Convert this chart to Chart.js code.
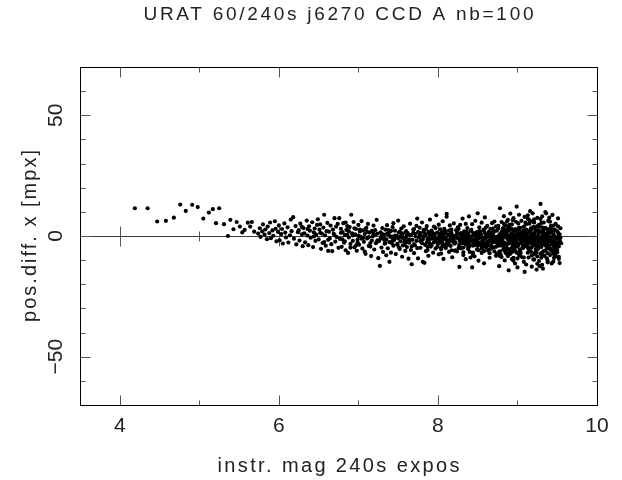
<!DOCTYPE html>
<html><head><meta charset="utf-8">
<script src="https://cdn.jsdelivr.net/npm/chart.js@4"></script>
<style>html,body{margin:0;padding:0;background:#fff}canvas{display:block}</style>
</head><body>
<canvas id="c" width="622" height="480"></canvas>
<script>
const titleText = "URAT 60/240s j6270 CCD A nb=100";
const xTitle = "instr. mag 240s expos";
const yTitle = "pos.diff. x [mpx]";
const xRange = [3.5, 10];
const yRange = [-70, 70];
const xTicksMajor = [4, 6, 8, 10];
const xTicksMinor = [5, 7, 9];
const yTicksMajor = [-50, 0, 50];
const yTicksMinor = [-60, -40, -30, -20, -10, 10, 20, 30, 40, 60];
const yTickLabels = ["\u221250", "0", "50"];

// bright stars (sparse)
const magA = [4.19,4.35,4.47,4.58,4.68,4.76,4.83,4.91,4.98,5.05,5.12,5.17,5.21,5.25,5.31,5.36,5.39,5.43,5.47,5.51,5.54,5.57,5.61,5.64,5.66,5.69,5.74];
const dxA  = [11.5,11.5,6.0,6.3,7.6,13.0,10.4,12.9,12.0,7.2,9.7,11.1,5.3,11.5,4.9,0.0,6.7,2.8,5.8,3.9,1.5,2.5,5.5,3.9,5.8,1.8,1.0];
const magB = [5.76,5.77,5.79,5.80,5.82,5.83,5.85,5.86,5.88,5.89,5.90,5.92,5.93,5.95,5.96,5.97,5.99,6.00,6.01,6.03,6.04,6.05,6.07,6.08,6.09,6.11,6.12,6.14,6.15,6.16,6.18,6.19,6.21,6.22,6.24];
const dxB  = [3.2,-0.4,1.9,4.8,0.6,2.7,-1.3,3.9,1.2,5.6,-0.9,2.3,0.1,6.1,3.0,-2.2,1.7,4.4,-1.8,0.8,2.9,-3.1,5.2,1.4,-0.6,3.6,-2.7,0.3,6.8,2.0,7.8,-1.1,4.1,-3.5,1.6];
const magC = [6.25,6.26,6.27,6.29,6.30,6.31,6.32,6.33,6.35,6.36,6.37,6.38,6.39,6.40,6.42,6.43,6.44,6.45,6.46,6.47,6.49,6.50,6.51,6.52,6.53,6.54,6.55,6.56,6.57,6.58,6.59,6.60,6.61,6.62,6.63,6.64,6.65,6.66,6.67,6.68,6.69,6.70,6.71,6.72,6.73,6.74,6.75,6.52,6.44,6.36,6.62,6.70,6.29,6.57,6.48];
const dxC  = [2.4,-1.9,5.1,0.7,-4.2,3.3,1.1,-2.6,6.4,0.2,-3.8,4.0,2.2,-0.7,5.7,-4.6,1.5,3.1,-2.0,0.6,6.9,-1.4,2.7,4.8,-5.3,1.0,-2.9,3.5,8.8,0.3,-4.0,2.0,5.4,-6.2,1.8,-1.0,4.3,-3.4,-6.3,2.6,0.9,7.4,-2.3,3.9,-0.5,5.0,-4.9,1.3,-0.2,2.9,-1.6,0.4,3.8,-2.5,4.6];
const magD = [6.76,6.77,6.78,6.79,6.80,6.81,6.82,6.83,6.84,6.85,6.86,6.87,6.88,6.89,6.90,6.91,6.92,6.93,6.94,6.95,6.96,6.97,6.98,6.99,7.00,7.01,7.02,7.03,7.04,7.05,7.06,7.07,7.08,7.09,7.10,7.11,7.12,7.13,7.14,7.15,7.16,7.17,7.18,7.19,7.20,7.21,7.22,7.23,7.24,7.25,
  6.78,6.83,6.88,6.93,6.97,7.02,7.06,7.11,7.15,7.19,7.23,6.80,6.86,6.95,7.04,7.13,7.21,6.90,7.00,7.09,7.17,6.84,6.99,7.08,7.24];
const dxD  = [7.4,-1.2,3.0,-4.5,1.6,5.3,-2.8,0.4,-5.9,2.5,4.1,-7.0,-0.6,3.7,-3.3,8.8,1.1,-2.0,5.8,-4.7,0.7,2.9,-6.1,-1.5,4.6,-3.6,1.9,-0.3,6.2,-5.2,2.3,-2.4,0.8,-7.4,3.4,-1.0,5.0,-4.1,1.4,-2.9,-8.3,2.1,-0.2,4.3,-5.6,0.5,-3.0,6.7,-1.8,-9.2,
  1.3,-2.2,2.0,0.2,-3.9,2.6,-0.8,1.7,-4.4,0.9,-2.6,-1.4,0.6,3.2,-1.1,-0.5,2.4,-4.8,0.1,3.0,-1.9,5.6,-2.7,-6.5,1.0];
const magE = [7.26,7.27,7.28,7.29,7.30,7.30,7.31,7.32,7.33,7.34,7.35,7.35,7.36,7.37,7.38,7.39,7.39,7.40,7.41,7.42,7.43,7.44,7.44,7.45,7.46,7.47,7.48,7.49,7.50,7.50,7.51,7.52,7.53,7.54,7.55,7.55,7.56,7.57,7.58,7.59,7.60,7.60,7.61,7.62,7.63,7.64,7.65,7.65,7.66,7.67,7.68,7.69,7.70,7.70,7.71,7.72,7.73,7.74,7.75,7.75,
  7.28,7.31,7.34,7.37,7.40,7.43,7.46,7.49,7.52,7.55,7.58,7.61,7.64,7.67,7.70,7.73,
  7.29,7.33,7.38,7.42,7.47,7.51,7.56,7.60,7.66,7.71,7.74,7.36,7.45,7.53,7.62,7.69,7.32,7.41,7.58];
const dxE  = [-2.1,-12.4,1.5,-4.8,3.3,-0.9,-6.6,0.4,-3.2,2.6,-8.0,-1.4,4.5,-5.1,0.8,-10.7,-2.5,1.9,-6.9,-0.3,3.7,5.3,-4.0,-1.7,2.2,-7.5,0.1,-3.6,6.4,-1.0,1.4,-5.4,-2.2,3.1,-8.6,0.6,-3.9,4.0,-1.3,-6.2,2.0,-0.5,-4.6,1.2,-9.4,-2.8,0.3,5.1,-5.8,-11.7,-1.6,2.7,-3.4,-7.1,0.9,-0.2,4.2,-5.0,-9.3,1.6,
  -1.1,0.7,-2.9,1.0,-0.4,-1.9,0.2,-3.3,1.8,-0.7,-2.4,0.5,-1.5,-4.3,2.9,-2.0,
  0.0,-1.8,2.4,-3.0,-0.6,-4.7,1.1,-2.6,0.4,-3.8,7.2,0.9,-1.2,-0.1,-2.2,1.3,-0.8,2.1,-3.5];
const magF = [7.76,7.77,7.78,7.78,7.79,7.80,7.81,7.81,7.82,7.83,7.84,7.84,7.85,7.86,7.87,7.88,7.88,7.89,7.90,7.91,7.91,7.92,7.93,7.94,7.95,7.95,7.96,7.97,7.98,7.98,7.99,8.00,8.01,8.01,8.02,8.03,8.04,8.05,8.05,8.06,8.07,8.08,8.08,8.09,8.10,8.11,8.11,8.12,8.13,8.14,8.15,8.15,8.16,8.17,8.18,8.19,8.20,8.21,8.22,8.24,
  7.77,7.79,7.80,7.82,7.83,7.85,7.86,7.87,7.89,7.90,7.92,7.93,7.94,7.96,7.97,7.99,8.00,8.02,8.03,8.04,8.06,8.07,8.09,8.10,8.12,8.13,8.14,8.16,8.17,8.19,8.20,8.21,8.23,8.24,8.25,
  7.78,7.84,7.88,7.91,7.95,7.98,8.01,8.05,8.08,8.12,8.15,8.18,8.22,8.25,7.81,7.87,7.93,7.99,8.04,8.10,8.16,8.21,7.96,8.02,8.13];
const dxF  = [-0.6,3.4,-4.9,1.2,-2.3,5.6,-10.7,-0.1,2.5,-11.1,-3.7,0.8,-6.3,4.1,-1.5,1.7,-8.2,-2.9,6.8,0.3,-4.4,2.2,-1.0,-6.9,3.9,-2.6,0.5,-5.2,8.6,-1.8,1.4,-3.3,4.7,-7.6,-0.4,2.8,-5.5,0.9,-2.1,6.1,-9.5,-1.2,3.0,-4.0,1.1,9.2,8.0,-3.1,0.2,-6.6,4.4,-1.6,-0.8,2.6,-8.8,-2.4,5.2,-0.3,-5.9,1.9,
  0.4,-1.7,-3.0,1.8,-0.2,2.9,-2.7,-5.8,0.7,-1.3,-3.8,1.5,-0.5,-2.0,3.3,-4.6,-1.1,0.0,-2.8,1.0,-3.6,-0.7,2.1,-5.0,-1.9,0.6,-2.5,-4.1,1.3,0.2,-1.4,-3.2,2.4,-6.4,-0.9,
  -2.2,0.1,-1.0,-3.4,0.9,-2.4,-0.6,1.6,-4.3,-2.9,0.4,-1.7,-0.1,3.6,-1.5,-4.5,0.3,-2.0,-7.3,-0.9,2.3,-3.0,-1.2,1.0,-2.6];
const magG = [8.26,8.27,8.27,8.28,8.29,8.30,8.31,8.31,8.32,8.33,8.34,8.35,8.35,8.36,8.37,8.38,8.39,8.39,8.40,8.41,8.42,8.43,8.43,8.44,8.45,8.46,8.47,8.47,8.48,8.49,8.50,8.51,8.51,8.52,8.53,8.54,8.55,8.55,8.56,8.57,8.58,8.59,8.59,8.60,8.61,8.62,8.63,8.64,8.65,8.66,
  8.26,8.28,8.30,8.32,8.33,8.35,8.37,8.38,8.40,8.42,8.44,8.45,8.47,8.48,8.50,8.52,8.53,8.55,8.57,8.58,8.60,8.62,8.63,8.65,8.67,8.68,8.70,8.71,8.72,8.73,8.74,8.75,8.67,8.69,8.71,8.73,8.75,8.29,8.34,8.41,8.46,8.49,8.54,8.56,8.61,8.64,8.66,8.69,8.72,8.74,
  8.27,8.29,8.31,8.33,8.36,8.38,8.40,8.42,8.45,8.48,8.50,8.53,8.56,8.58,8.61,8.63,8.66,8.68,8.70,8.73,8.28,8.32,8.36,8.41,8.44,8.49,8.52,8.57,8.60,8.64,8.69,8.74,8.30,8.39,8.46,8.51,8.59,8.65,8.71,8.34,8.44,8.54,8.62,8.70,8.37,8.47,8.57,8.68,8.42,8.60];
const dxG  = [2.9,-12.8,-1.3,4.6,-5.1,0.7,-3.0,7.2,-7.9,1.5,-2.2,5.0,-9.6,-0.4,3.3,-4.7,8.1,-1.7,-6.6,2.0,-0.8,-13.0,4.9,-3.9,1.2,-8.4,6.3,-2.6,0.3,-5.6,9.4,-1.1,-10.2,3.6,-3.4,0.8,-7.0,5.5,-1.9,2.4,-11.3,-4.2,7.7,0.1,-2.8,4.2,-6.0,1.7,-9.0,3.0,
  -1.0,0.6,-2.4,-0.3,1.9,-3.5,-1.2,0.9,-4.0,-2.1,0.4,-1.6,-3.1,1.1,-0.7,-2.9,0.2,-4.4,-1.4,2.7,-0.9,-3.3,0.0,-1.8,-5.2,1.4,-2.3,6.0,-0.5,-8.2,2.2,-3.7,0.7,-1.1,-6.4,4.0,-0.2,-2.0,1.6,-0.6,-3.8,-1.5,0.5,-2.7,-4.9,1.0,-0.1,3.1,-2.5,-7.4,
  -3.6,1.2,-0.8,-2.0,0.3,-5.4,-1.3,2.5,-2.9,-0.4,-4.1,1.4,-1.9,-6.3,0.6,-2.6,-0.9,5.3,-4.7,-1.6,-2.2,-4.8,1.8,-0.2,-6.9,-2.3,2.0,-3.0,-1.0,-5.7,0.8,-1.8,-1.9,-3.2,0.9,-5.9,1.3,-2.1,-0.4,-1.4,-3.9,-0.5,-2.4,1.5,-0.7,-1.8,-4.5,-2.8,-1.2,-0.3];
const magH = [8.76,8.77,8.77,8.78,8.78,8.79,8.80,8.80,8.81,8.82,8.82,8.83,8.84,8.84,8.85,8.86,8.86,8.87,8.88,8.88,8.89,8.89,8.90,8.91,8.91,8.92,8.93,8.93,8.94,8.95,8.95,8.96,8.97,8.97,8.98,8.99,8.99,9.00,9.00,9.01,9.02,9.02,9.03,9.04,9.05,9.05,9.06,9.07,9.08,9.09,
  8.76,8.78,8.79,8.81,8.82,8.83,8.85,8.86,8.87,8.89,8.90,8.91,8.92,8.94,8.95,8.96,8.98,8.99,9.00,9.01,9.03,9.04,9.05,9.07,9.08,9.09,9.10,8.77,8.80,8.83,8.86,8.88,8.91,8.94,8.96,8.99,9.02,9.04,9.07,9.09,8.79,8.82,8.85,8.88,8.92,8.95,8.98,9.01,9.03,9.06,9.08,8.81,8.87,8.93,9.00,
  8.76,8.79,8.81,8.84,8.87,8.90,8.92,8.95,8.98,9.01,9.04,9.06,9.09,8.78,8.83,8.88,8.93,8.97,9.02,9.07,8.80,8.85,8.90,8.96,9.00,9.05,9.10,8.77,8.82,8.86,8.91,8.94,8.98,9.03,9.08,8.79,8.84,8.89,8.93,8.97,9.01,9.06,8.81,8.87,8.92,8.96,9.02,9.08,8.83,8.89,8.95,9.04,8.85,8.94,9.03];
const dxH  = [3.1,-12.5,-2.0,11.5,-6.4,0.6,5.8,-8.7,-1.5,2.9,-4.3,8.2,-10.1,0.0,4.5,-3.2,-7.3,1.8,6.7,-0.9,-14.2,3.7,-5.5,9.3,-2.4,0.9,-9.6,4.8,-1.3,7.4,-4.8,2.2,-11.4,-0.2,5.9,12.2,-6.9,-13.0,1.4,-3.5,8.8,-0.6,-8.1,3.4,-1.8,6.3,-5.0,0.5,-10.7,-14.9,
  -1.2,0.8,-3.4,-0.5,1.6,-2.7,-0.1,-4.6,2.0,-1.9,0.3,-3.0,-0.8,1.2,-2.2,-5.1,0.6,-1.4,2.6,-3.8,-0.3,1.0,-2.9,-0.7,3.9,-4.2,-1.5,0.2,-2.6,-0.4,1.4,-3.3,-1.1,0.7,-6.0,-2.0,0.9,-1.7,-3.9,1.8,-0.9,-5.7,2.4,-1.3,-2.5,0.4,-4.0,-0.2,1.9,-3.1,-1.0,-2.3,0.1,-1.6,-4.4,
  4.2,-7.8,1.0,-2.8,6.1,-6.6,2.7,-9.0,-3.6,5.2,-7.0,0.3,7.9,-2.1,5.0,-8.3,-0.4,-6.2,3.5,-2.5,1.7,-6.8,4.6,-1.0,-9.3,1.3,5.5,-4.0,3.3,-0.6,-7.4,6.6,-2.4,-5.6,2.3,0.8,-4.5,-1.2,-6.7,2.9,-3.1,-8.8,-0.3,-5.3,3.1,-3.3,-7.7,-0.8,-3.9,2.4,-4.9,-1.5,0.5,-3.5,-6.1];
const magI = [9.11,9.11,9.12,9.13,9.13,9.14,9.15,9.15,9.16,9.17,9.17,9.18,9.19,9.19,9.20,9.21,9.21,9.22,9.23,9.23,9.24,9.25,9.25,9.26,9.27,9.27,9.28,9.29,9.29,9.30,9.31,9.31,9.32,9.33,9.33,9.34,9.35,9.35,9.36,9.37,9.37,9.38,9.39,9.40,9.41,9.42,9.43,9.44,9.46,9.48,
  9.11,9.12,9.14,9.15,9.16,9.18,9.19,9.20,9.22,9.23,9.24,9.26,9.27,9.28,9.30,9.31,9.32,9.34,9.35,9.36,9.38,9.39,9.40,9.42,9.43,9.44,9.45,9.46,9.47,9.48,9.49,9.50,9.51,9.52,9.53,9.54,9.12,9.16,9.20,9.24,9.28,9.32,9.36,9.40,9.44,9.48,9.52,9.14,9.22,9.30,9.38,9.46,9.50,9.53,9.55,
  9.11,9.13,9.15,9.17,9.19,9.21,9.23,9.25,9.27,9.29,9.31,9.33,9.35,9.37,9.39,9.41,9.43,9.45,9.47,9.49,9.51,9.53,9.12,9.15,9.18,9.21,9.24,9.27,9.30,9.33,9.36,9.39,9.42,9.45,9.48,9.51,9.54,9.13,9.17,9.21,9.25,9.29,9.33,9.37,9.41,9.45,9.49,9.53,9.16,9.23,9.31,9.38,9.44,9.50,9.26,
  9.10,9.14,9.18,9.22,9.26,9.30,9.34,9.38,9.42,9.46,9.50,9.12,9.17,9.22,9.27,9.32,9.37,9.42,9.47,9.52,9.11,9.16,9.21,9.26,9.31,9.36,9.41,9.46,9.51,9.13,9.19,9.25,9.31,9.37,9.43,9.49,9.15,9.28,9.40,9.52];
const dxI  = [2.6,-11.8,-4.4,8.6,-0.7,-8.9,5.1,-2.9,10.3,-6.5,0.4,-12.7,9.4,-3.0,3.8,-9.8,6.9,-1.2,-5.6,2.1,-13.9,7.5,-3.7,0.8,-10.4,4.6,-0.9,13.3,-7.3,1.7,-12.0,8.1,-13.5,-2.6,5.6,-8.2,0.0,9.9,9.4,-4.9,3.0,-10.9,6.2,-1.9,-7.9,4.2,-11.4,8.75,-9.1,-5.2,
  -1.4,1.1,-3.2,-0.3,2.4,-4.7,-1.8,0.6,-2.4,3.6,-0.8,-5.3,1.5,-2.0,-0.2,-3.7,2.0,-1.5,-6.1,0.9,-2.7,1.8,-4.1,-0.5,2.8,-1.9,-7.4,0.2,-3.4,5.0,-1.1,-5.8,1.3,-8.6,-2.2,3.2,-0.6,-2.5,1.2,-4.3,-1.0,0.5,-3.8,2.2,-5.9,-0.4,-9.5,-2.8,-0.1,-4.6,1.6,-1.3,-6.7,0.7,-3.0,
  4.9,-6.9,1.6,-2.1,6.0,-7.6,-0.5,4.1,-4.5,7.0,-1.6,-6.3,3.4,-9.3,0.1,5.9,-3.3,-10.6,2.7,-6.4,7.3,-1.9,-3.0,6.6,-8.0,1.0,-6.9,3.9,-9.0,0.4,-4.0,6.4,-2.3,4.3,-8.4,-3.1,-0.7,-5.0,3.2,-1.4,-8.5,-2.9,2.6,-1.7,-5.5,0.9,-2.7,-11.2,-0.9,-3.6,-1.0,-7.1,-3.5,1.9,-2.2,
  0.3,-1.9,2.8,-3.9,-1.3,5.4,-2.8,-0.3,3.5,-4.1,-0.8,-3.6,0.7,-7.0,2.3,-1.0,-5.1,1.4,-2.5,-0.2,-2.4,-4.9,5.6,-0.6,-6.8,-1.6,2.6,-3.2,4.0,7.1,-3.5,-11.5,3.6,-0.9,-6.2,-3.8,-5.4,-12.5,7.6,-4.3];
// extra faint stars filling the dense band below zero
const magJ = [8.02,8.04,8.07,8.09,8.12,8.14,8.17,8.19,8.22,8.24,8.27,8.29,8.32,8.34,8.37,8.39,8.42,8.44,8.47,8.49,8.03,8.11,8.18,8.26,8.33,8.41,8.48,8.06,8.21,8.36];
const dxJ  = [-2.0,-4.8,0.6,-1.4,-3.7,2.2,-5.9,-0.9,-2.6,0.9,-4.2,-1.7,-6.8,0.3,-2.9,-4.6,-0.4,-7.8,-2.1,1.6,-1.0,-3.0,-0.2,-5.0,-2.4,-8.9,-1.3,-3.2,-6.1,-0.8];
const magK = [8.51,8.53,8.55,8.58,8.60,8.63,8.65,8.68,8.70,8.73,8.75,8.78,8.80,8.83,8.85,8.88,8.90,8.93,8.95,8.98,9.00,9.03,9.05,9.08,9.10,9.13,9.15,9.18,9.20,9.23,9.25,9.28,9.30,9.33,9.35,9.38,9.40,9.43,9.45,9.48,8.57,8.67,8.77,8.87,8.97,9.07,9.17,9.27,9.37,9.47];
const dxK  = [-2.7,0.5,-5.2,-1.1,3.4,-3.9,-7.1,-0.6,1.9,-4.5,-2.2,-8.3,0.7,-3.5,-6.4,-1.0,2.5,-4.9,-10.2,-1.8,0.4,-5.8,-2.6,-8.9,1.1,-3.1,-6.0,-0.3,-9.7,2.9,-4.7,-1.4,-7.7,0.9,-3.7,-10.3,-2.0,-5.3,1.8,-7.5,-0.9,-4.1,-6.6,3.0,-2.8,-5.0,-1.7,-4.4,-2.3,-6.3];

const mags = [magA, magB, magC, magD, magE, magF, magG, magH, magI, magJ, magK];
const diffs = [dxA, dxB, dxC, dxD, dxE, dxF, dxG, dxH, dxI, dxJ, dxK];
const points = [];
mags.forEach((m, k) => {
  const d = diffs[k];
  const n = Math.min(m.length, d.length);
  for (let i = 0; i < n; i++) points.push({x: m[i], y: d[i]});
});

const FONT = '"Liberation Sans", "DejaVu Sans", sans-serif';
function spacedText(ctx, text, cx, cy, size, target, rot) {
  ctx.save();
  ctx.font = size + 'px ' + FONT;
  ctx.fillStyle = '#222';
  ctx.textBaseline = 'middle';
  ctx.textAlign = 'left';
  if ('letterSpacing' in ctx) ctx.letterSpacing = '0px';
  const w = ctx.measureText(text).width;
  const n = [...text].length;
  let ls = 0;
  if (target && 'letterSpacing' in ctx && n > 1) {
    ls = (target - w) / (n - 1);
    ctx.letterSpacing = ls + 'px';
  }
  const total = w + ls * (n - 1);
  ctx.translate(cx, cy);
  if (rot) ctx.rotate(rot);
  ctx.fillText(text, -total / 2, 0);
  ctx.restore();
}
function seg(ctx, x1, y1, x2, y2) {
  ctx.beginPath(); ctx.moveTo(x1, y1); ctx.lineTo(x2, y2); ctx.stroke();
}

const framePlugin = {
  id: 'frame',
  beforeDatasetsDraw(chart) {
    const ctx = chart.ctx, xs = chart.scales.x, ys = chart.scales.y;
    const L = Math.round(xs.getPixelForValue(xRange[0])) + 0.5;
    const R = Math.round(xs.getPixelForValue(xRange[1])) + 0.5;
    const T = Math.round(ys.getPixelForValue(yRange[1])) + 0.5;
    const B = Math.round(ys.getPixelForValue(yRange[0])) + 0.5;
    const Z = Math.round(ys.getPixelForValue(0)) + 0.5;
    ctx.save();
    ctx.lineWidth = 1;
    ctx.strokeStyle = '#3a3a3a';
    seg(ctx, L, Z, R, Z);
    ctx.strokeStyle = '#555';
    const xt = (v, len) => {
      const p = Math.round(xs.getPixelForValue(v)) + 0.5;
      seg(ctx, p, B, p, B - len);
      seg(ctx, p, T, p, T + len);
      if (v < xRange[1]) seg(ctx, p, Z - len, p, Z + len);
    };
    xTicksMajor.forEach(v => xt(v, 10));
    xTicksMinor.forEach(v => xt(v, 5));
    const yt = (v, len) => {
      const p = Math.round(ys.getPixelForValue(v)) + 0.5;
      seg(ctx, L, p, L + len, p);
      seg(ctx, R, p, R - len, p);
    };
    yTicksMajor.forEach(v => yt(v, 10));
    yTicksMinor.forEach(v => yt(v, 5));
    ctx.strokeStyle = '#000';
    ctx.strokeRect(L, T, R - L, B - T);
    ctx.restore();
  },
  afterDraw(chart) {
    const ctx = chart.ctx, xs = chart.scales.x, ys = chart.scales.y;
    const ca = chart.chartArea;
    const cx = (ca.left + ca.right) / 2;
    const cy = (ca.top + ca.bottom) / 2;
    spacedText(ctx, titleText, cx, 15, 19, 390);
    xTicksMajor.forEach(v => spacedText(ctx, String(v), xs.getPixelForValue(v), 426, 21, 0));
    yTicksMajor.forEach((v, i) => spacedText(ctx, yTickLabels[i], 56, ys.getPixelForValue(v), 21, 0, -Math.PI / 2));
    spacedText(ctx, xTitle, cx, 466, 20, 242);
    spacedText(ctx, yTitle, 30, cy, 20, 172, -Math.PI / 2);
  }
};

new Chart(document.getElementById('c'), {
  type: 'scatter',
  data: { datasets: [{
    data: points,
    backgroundColor: '#000',
    borderWidth: 0,
    pointRadius: 2.1,
    pointHoverRadius: 2.1
  }]},
  options: {
    responsive: false,
    devicePixelRatio: 1,
    animation: false,
    events: [],
    layout: { padding: { left: 80, top: 67, right: 25, bottom: 75 } },
    plugins: { legend: { display: false }, title: { display: false }, tooltip: { enabled: false } },
    scales: {
      x: { type: 'linear', min: xRange[0], max: xRange[1], display: false },
      y: { type: 'linear', min: yRange[0], max: yRange[1], display: false }
    }
  },
  plugins: [framePlugin]
});
</script>
</body></html>
